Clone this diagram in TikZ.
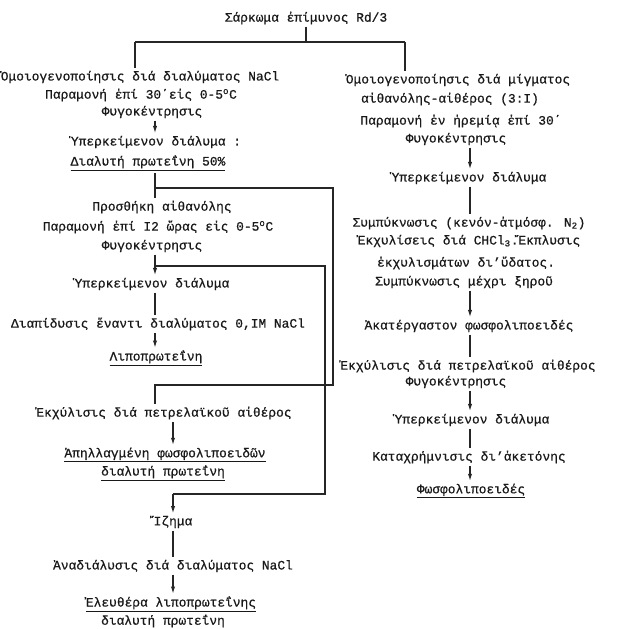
\documentclass[tikz,border=0pt]{standalone}
\usepackage{fontspec}
\setmainfont{Liberation Mono}[FakeBold=0.7]
\usetikzlibrary{arrows.meta}
\begin{document}
\begin{tikzpicture}
[
x=0.03cm, y=-0.03cm,
Step/.style={inner sep=2pt, text=black!90, font=\fontsize{11}{13}\selectfont},
Plainline/.style={-, draw=black!85, line width=1.1pt},
DownArrow/.style={-{Latex[length=2.2mm,width=1.3mm]}, draw=black!85, line width=1.1pt},
]
\useasboundingbox (0,0) rectangle (623,629);

\node[Step] (T) at (306,18) {Σάρκωμα ἐπίμυνος Rd/3};

% left column
\node[Step] (L1a) at (140, 77) {Ὁμοιογενοποίησις διά διαλύματος NaCl};
\node[Step] (L1b) at (141, 95) {Παραμονή ἐπί 30΄εἰς 0-5\textsuperscript{o}C};
\node[Step] (L1c) at (152,112) {Φυγοκέντρησις};
\node[Step] (L2a) at (156,142) {Ὑπερκείμενον διάλυμα :};
\node[Step] (L2b) at (148,163) {\underline{Διαλυτή πρωτεΐνη 50\%}};
\node[Step] (L3a) at (162,207) {Προσθήκη αἰθανόλης};
\node[Step] (L3b) at (158,227) {Παραμονή ἐπί I2 ὥρας εἰς 0-5\textsuperscript{o}C};
\node[Step] (L3c) at (152,246) {Φυγοκέντρησις};
\node[Step] (L4)  at (152,284) {Ὑπερκείμενον διάλυμα};
\node[Step] (L5)  at (158,324) {Διαπίδυσις ἔναντι διαλύματος 0,IM NaCl};
\node[Step] (L6)  at (156,358) {\underline{Λιποπρωτεΐνη}};
\node[Step] (L7)  at (164,413) {Ἐκχύλισις διά πετρελαϊκοῦ αἰθέρος};
\node[Step] (L8a) at (165,455) {\underline{Ἀπηλλαγμένη φωσφολιποειδῶν}};
\node[Step] (L8b) at (163,473) {\underline{διαλυτή πρωτεΐνη}};
\node[Step] (L9)  at (173,522) {Ἴζημα};
\node[Step] (L10) at (173,566) {Ἀναδιάλυσις διά διαλύματος NaCl};
\node[Step] (L11a) at (171,604) {\underline{Ἐλευθέρα λιποπρωτεΐνης}};
\node[Step] (L11b) at (163,621) {διαλυτή πρωτεΐνη};

% right column
\node[Step] (R1a) at (458, 80) {Ὁμοιογενοποίησις διά μίγματος};
\node[Step] (R1b) at (450, 99) {αἰθανόλης-αἰθέρος (3:I)};
\node[Step] (R1c) at (461,121) {Παραμονή ἐν ἠρεμίᾳ ἐπί 30΄};
\node[Step] (R1d) at (456,139) {Φυγοκέντρησις};
\node[Step] (R2)  at (469,178) {Ὑπερκείμενον διάλυμα};
\node[Step] (R3a) at (469,223) {Συμπύκνωσις (κενόν-ἀτμόσφ. N\textsubscript{2})};
\node[Step] (R3b) at (469,241) {Ἐκχυλίσεις διά CHCl\textsubscript{3}.Ἔκπλυσις};
\node[Step] (R3c) at (466,263) {ἐκχυλισμάτων δι’ὕδατος.};
\node[Step] (R3d) at (464,282) {Συμπύκνωσις μέχρι ξηροῦ};
\node[Step] (R4)  at (469,326) {Ἀκατέργαστον φωσφολιποειδές};
\node[Step] (R5a) at (468,366) {Ἐκχύλισις διά πετρελαϊκοῦ αἰθέρος};
\node[Step] (R5b) at (456,382) {Φυγοκέντρησις};
\node[Step] (R6)  at (472,420) {Ὑπερκείμενον διάλυμα};
\node[Step] (R7)  at (469,457) {Καταχρήμνισις δι’ἀκετόνης};
\node[Step] (R8)  at (471,491) {\underline{Φωσφολιποειδές}};

% line positions
\coordinate (cL)  at (155,0);
\coordinate (cL2) at (173,0);
\coordinate (cR)  at (470,0);
\coordinate (barL) at (135,42);
\coordinate (barR) at (405,42);
\coordinate (A1) at (155,188);
\coordinate (A2) at (333,188);
\coordinate (A3) at (333,385);
\coordinate (A4) at (155,385);
\coordinate (B1) at (155,266);
\coordinate (B2) at (325,266);
\coordinate (B3) at (325,494);
\coordinate (B4) at (173,494);

\draw[Plainline] (T.south) -- (T.south |- barL);
\draw[Plainline] (barL) -- (barR);
\draw[Plainline] (barL) -- (barL |- L1a.north);
\draw[Plainline] (barR) -- (barR |- R1a.north);

\draw[DownArrow] (L1c.south -| cL) -- (L2a.north -| cL);
\draw[Plainline] (L2b.south -| cL) -- (L3a.north -| cL);
\draw[DownArrow] (L3c.south -| cL) -- (L4.north -| cL);
\draw[Plainline] (L4.south -| cL) -- (L5.north -| cL);
\draw[DownArrow] (L5.south -| cL) -- (L6.north -| cL);
\draw[DownArrow] (L7.south -| cL2) -- (L8a.north -| cL2);
\draw[Plainline] (L9.south -| cL2) -- (L10.north -| cL2);
\draw[DownArrow] (L10.south -| cL2) -- (L11a.north -| cL2);

\draw[Plainline] (A1) -- (A2) -- (A3) -- (A4) -- (L7.north -| A4);
\draw[Plainline] (B1) -- (B2) -- (B3) -- (B4);
\draw[DownArrow] (B4) -- (L9.north -| B4);

\draw[DownArrow] (R1d.south -| cR) -- (R2.north -| cR);
\draw[Plainline] (R2.south -| cR) -- (R3a.north -| cR);
\draw[DownArrow] (R3d.south -| cR) -- (R4.north -| cR);
\draw[Plainline] (R4.south -| cR) -- (R5a.north -| cR);
\draw[DownArrow] (R5b.south -| cR) -- (R6.north -| cR);
\draw[Plainline] (R6.south -| cR) -- (R7.north -| cR);
\draw[DownArrow] (R7.south -| cR) -- (R8.north -| cR);

\end{tikzpicture}
\end{document}
